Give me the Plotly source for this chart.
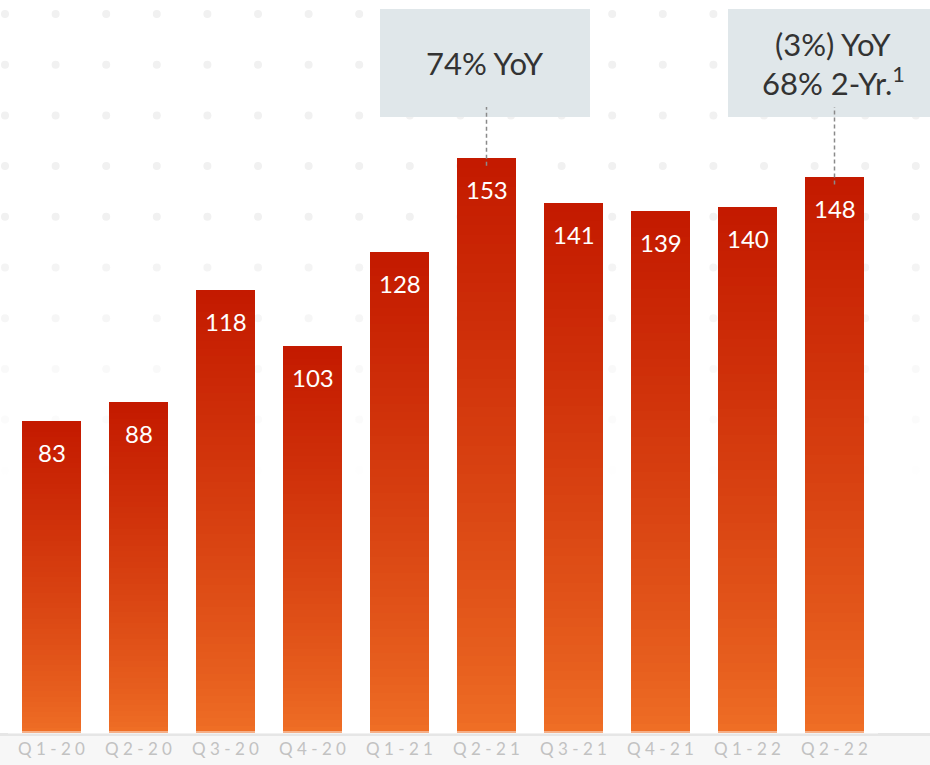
import plotly.graph_objects as go

quarters = ["Q1-20", "Q2-20", "Q3-20", "Q4-20", "Q1-21", "Q2-21", "Q3-21", "Q4-21", "Q1-22", "Q2-22"]
tick_labels = ["Q 1 - 2 0", "Q 2 - 2 0", "Q 3 - 2 0", "Q 4 - 2 0", "Q 1 - 2 1",
               "Q 2 - 2 1", "Q 3 - 2 1", "Q 4 - 2 1", "Q 1 - 2 2", "Q 2 - 2 2"]
values = [83, 88, 118, 103, 128, 153, 141, 139, 140, 148]

callout_quarters = ["Q2-21", "Q2-22"]
callout_lines = [["74% YoY"], ["(3%) YoY", "68% 2-Yr.<sup>1</sup>"]]

W, H = 930, 765
ML, MR, MT, MB = 8, 52, 0, 32
Y_MAX = 195.1

TOP = (196, 26, 0)
BOTTOM = (240, 112, 38)
N_SEG = 60


def mix(t):
    # t = 0 at bar bottom, 1 at bar top
    r, g, b = (BOTTOM[i] + (TOP[i] - BOTTOM[i]) * t ** 0.8 for i in range(3))
    return "rgb(%d,%d,%d)" % (r, g, b)


fig = go.Figure()

# gradient bars: each bar stacked from thin slices, coloured bottom -> top
for k in range(N_SEG):
    fig.add_trace(go.Bar(
        x=quarters, y=[v / N_SEG for v in values],
        marker=dict(color=mix((k + 0.5) / N_SEG), line=dict(width=0)),
        hoverinfo="skip", showlegend=False,
    ))

# value labels inside the bar tops
for q, v in zip(quarters, values):
    fig.add_annotation(
        x=q, y=v, text=str(v), showarrow=False, yanchor="top", yshift=-15,
        font=dict(family="Lato", size=24, color="white"),
    )

shapes = []
plot_w = W - ML - MR
plot_h = H - MT - MB
n = len(quarters)

# faint dot pattern in the background
for row in range(10):
    py = 14 + row * 50.7
    op = max(0.0, 1.0 - max(0, row - 4) * 0.18)
    for col in range(19):
        px = 5 + col * 50.6
        xp = (px - ML) / plot_w
        yp = 1 - (py - MT) / plot_h
        rx, ry = 4 / plot_w, 4 / plot_h
        shapes.append(dict(
            type="circle", xref="paper", yref="paper", layer="below",
            x0=xp - rx, x1=xp + rx, y0=yp - ry, y1=yp + ry,
            fillcolor="#f1f1f1", opacity=op, line=dict(width=0),
        ))

# grey band under the axis
shapes.append(dict(
    type="rect", xref="paper", yref="paper", layer="below",
    x0=-ML / plot_w, x1=1 + MR / plot_w, y0=-MB / plot_h - 0.01, y1=0,
    fillcolor="#f7f7f7", line=dict(width=0),
))
shapes.append(dict(
    type="line", xref="paper", yref="paper", layer="below",
    x0=-ML / plot_w, x1=1 + MR / plot_w, y0=-1.5 / plot_h, y1=-1.5 / plot_h,
    line=dict(color="#e6e6e6", width=3),
))
shapes.append(dict(
    type="line", xref="paper", yref="paper", layer="above",
    x0=0, x1=1, y0=0.5 / plot_h, y1=0.5 / plot_h,
    line=dict(color="rgba(255,255,255,0.45)", width=3),
))

# callout boxes with dashed leaders
half_box = 105 / plot_w
box_top = 1 - 9 / plot_h
box_bot = 1 - 117 / plot_h
line_gap = 37
for q, lines in zip(callout_quarters, callout_lines):
    i = quarters.index(q)
    v = values[i]
    xc = (i + 0.5) / n - 1.5 / plot_w
    shapes.append(dict(
        type="rect", xref="paper", yref="paper", layer="below",
        x0=xc - half_box, x1=xc + half_box, y0=box_bot, y1=box_top,
        fillcolor="#e0e7ea", line=dict(width=0),
    ))
    for k, txt in enumerate(lines):
        fig.add_annotation(
            x=xc, xref="paper", xanchor="center",
            y=(box_top + box_bot) / 2, yref="paper", yanchor="middle",
            yshift=-(k - (len(lines) - 1) / 2) * line_gap,
            text=txt, showarrow=False,
            font=dict(family="Lato", size=31, color="#333333"),
        )
    shapes.append(dict(
        type="line", xref="x", yref="y", layer="above",
        x0=q, x1=q, y0=v - 2, y1=Y_MAX * (1 - 107 / plot_h),
        line=dict(color="#8a8a8a", width=1.5, dash="4px,3px"),
    ))

fig.update_layout(
    width=W, height=H,
    margin=dict(l=ML, r=MR, t=MT, b=MB, autoexpand=False),
    barmode="stack", bargap=0.322,
    paper_bgcolor="white", plot_bgcolor="rgba(0,0,0,0)",
    showlegend=False,
    shapes=shapes,
    xaxis=dict(
        tickvals=quarters, ticktext=tick_labels, showgrid=False, showline=False,
        zeroline=False, ticks="", ticklabelstandoff=4, automargin=False,
        range=[-0.5, n - 0.5],
        tickfont=dict(family="Lato", size=17, color="#c2c2c2"),
    ),
    yaxis=dict(range=[0, Y_MAX], visible=False, showgrid=False, automargin=False),
)

fig.write_html("out.html", config={"displayModeBar": False},
               post_script="document.body.style.margin='0';")
